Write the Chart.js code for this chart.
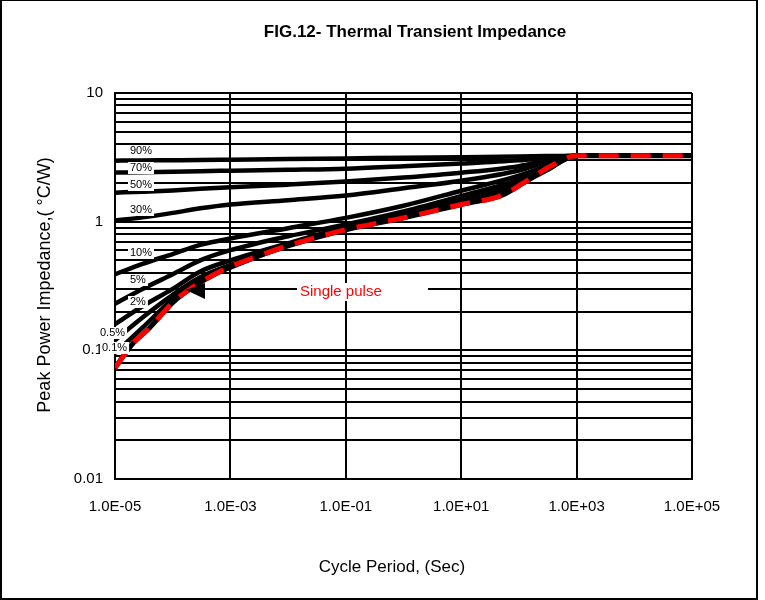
<!DOCTYPE html>
<html>
<head>
<meta charset="utf-8">
<script src="https://cdn.jsdelivr.net/npm/chart.js@4.4.1/dist/chart.umd.min.js"></script>
<style>
  html, body { margin: 0; padding: 0; background: #fff; }
  #wrap { width: 765px; height: 600px; }
</style>
</head>
<body>
<div id="wrap"><canvas id="chart" width="765" height="600"></canvas></div>
<script>
// Cycle period (s) for the duty-cycle curves
const periods = [1e-5, 3e-5, 1e-4, 3e-4, 1e-3, 1e-2, 1e-1, 1, 10, 100, 300, 1000, 1e5];

// Peak power impedance (°C/W) per duty cycle
const duty90 = [2.98, 2.99, 3.0, 3.01, 3.03, 3.07, 3.1, 3.14, 3.17, 3.21, 3.24, 3.26, 3.26];
const duty70 = [2.41, 2.42, 2.44, 2.47, 2.49, 2.53, 2.58, 2.7, 2.83, 3.0, 3.13, 3.26, 3.26];
const duty50 = [1.68, 1.71, 1.75, 1.8, 1.85, 1.94, 2.05, 2.2, 2.4, 2.7, 2.98, 3.26, 3.26];
const duty30 = [1.02, 1.08, 1.17, 1.27, 1.36, 1.47, 1.6, 1.82, 2.08, 2.5, 2.9, 3.26, 3.26];
const duty10 = [0.39, 0.47, 0.56, 0.66, 0.74, 0.89, 1.07, 1.33, 1.74, 2.28, 2.72, 3.26, 3.26];
const duty5 = [0.23, 0.3, 0.39, 0.5, 0.6, 0.77, 0.95, 1.2, 1.58, 2.12, 2.62, 3.26, 3.26];
const duty2 = [0.16, 0.22, 0.3, 0.41, 0.5, 0.68, 0.9, 1.12, 1.48, 2.0, 2.55, 3.26, 3.26];
const duty05 = [0.12, 0.18, 0.27, 0.37, 0.46, 0.66, 0.88, 1.1, 1.43, 1.97, 2.52, 3.26, 3.26];
const duty01 = [0.095, 0.15, 0.25, 0.35, 0.44, 0.655, 0.87, 1.08, 1.4, 1.94, 2.5, 3.26, 3.26];

// Single pulse curve
const pulsePeriods = [1e-5, 2e-5, 4e-5, 1e-4, 2e-4, 7e-4, 3e-3, 1e-2, 1e-1, 1, 10, 50, 120, 400, 1000, 1e5];
const singlePulse = [0.073, 0.112, 0.15, 0.235, 0.3, 0.416, 0.54, 0.65, 0.866, 1.07, 1.36, 1.6, 2.0, 2.78, 3.26, 3.26];

const dutyLabels = ['90%', '70%', '50%', '30%', '10%', '5%', '2%', '0.5%', '0.1%'];
const dutySeries = [duty90, duty70, duty50, duty30, duty10, duty5, duty2, duty05, duty01];

// Axis ticks
const xTickValues = [1e-5, 1e-3, 1e-1, 1e1, 1e3, 1e5];
const xTickLabels = ['1.0E-05', '1.0E-03', '1.0E-01', '1.0E+01', '1.0E+03', '1.0E+05'];
const yTickValues = [0.01, 0.1, 1, 10];
const yTickLabels = ['0.01', '0.1', '1', '10'];

function toPoints(xs, ys) {
    return xs.map((x, i) => ({ x: x, y: ys[i] }));
}

// horizontal grid at every 1..9 step of each decade
const yGrid = [];
[0.01, 0.1, 1].forEach(d => {
    for (let k = 1; k < 10; k++) yGrid.push(d * k);
});
yGrid.push(10);

const datasets = [];
datasets.push({
    label: 'Single pulse',
    data: toPoints(pulsePeriods, singlePulse),
    borderColor: '#ff0000',
    borderWidth: 5,
    borderDash: [20, 12],
    borderCapStyle: 'butt'
});
datasets.push({
    label: 'Single pulse base',
    data: toPoints(pulsePeriods, singlePulse),
    borderColor: '#000',
    borderWidth: 5
});
dutySeries.forEach((s, i) => {
    datasets.push({
        label: dutyLabels[i],
        data: toPoints(periods, s),
        borderColor: '#000',
        borderWidth: 4.5
    });
});

// label placements (pixels, relative to plot left edge)
const labelPos = [[15, 151], [15, 168], [15, 185], [15, 210], [15, 253], [15, 280], [15, 302], [-15, 333], [-13, 348]];

const decorations = {
    id: 'decorations',
    afterDatasetsDraw(chart) {
        const ctx = chart.ctx;
        const area = chart.chartArea;
        ctx.save();
        ctx.font = '11px Arial, "Liberation Sans", sans-serif';
        ctx.textBaseline = 'middle';
        ctx.textAlign = 'left';
        dutyLabels.forEach((t, i) => {
            const x = area.left + labelPos[i][0];
            const y = labelPos[i][1];
            const w = ctx.measureText(t).width;
            ctx.fillStyle = '#fff';
            ctx.fillRect(x - 2, y - 6, w + 4, 12);
            ctx.fillStyle = '#000';
            ctx.fillText(t, x, y);
        });

        // single pulse callout
        ctx.font = '15px Arial, "Liberation Sans", sans-serif';
        ctx.fillStyle = '#fff';
        ctx.fillRect(297, 283, 131, 18);
        ctx.fillStyle = '#ff0000';
        ctx.fillText('Single pulse', 300, 292);
        ctx.fillStyle = '#000';
        ctx.beginPath();
        ctx.moveTo(186, 290);
        ctx.lineTo(205, 283);
        ctx.lineTo(205, 299);
        ctx.closePath();
        ctx.fill();
        ctx.restore();
    },
    afterDraw(chart) {
        const ctx = chart.ctx;
        ctx.save();
        ctx.fillStyle = '#000';
        ctx.textAlign = 'center';
        ctx.textBaseline = 'middle';
        ctx.font = 'bold 17px Arial, "Liberation Sans", sans-serif';
        ctx.fillText('FIG.12- Thermal Transient Impedance', 415, 32);
        ctx.font = '17px Arial, "Liberation Sans", sans-serif';
        ctx.fillText('Cycle Period, (Sec)', 392, 567);
        ctx.translate(45, 285);
        ctx.rotate(-Math.PI / 2);
        ctx.font = '18px Arial, "Liberation Sans", sans-serif';
        ctx.fillText('Peak Power Impedance,( °C/W)', 0, 0);
        ctx.restore();

        ctx.save();
        ctx.strokeStyle = '#000';
        ctx.lineWidth = 2;
        ctx.strokeRect(1, 0, 756, 599);
        ctx.restore();
    }
};

new Chart(document.getElementById('chart'), {
    type: 'scatter',
    data: { datasets: datasets },
    plugins: [decorations],
    options: {
        responsive: false,
        animation: false,
        showLine: true,
        layout: { padding: { top: 93, right: 73, left: 0, bottom: 0 } },
        elements: {
            point: { radius: 0 },
            line: { cubicInterpolationMode: 'monotone', fill: false }
        },
        plugins: {
            legend: { display: false },
            tooltip: { enabled: false },
            title: { display: false }
        },
        scales: {
            x: {
                type: 'logarithmic',
                min: 1e-5,
                max: 1e5,
                afterBuildTicks: scale => {
                    scale.ticks = xTickValues.map(v => ({ value: v }));
                },
                afterFit: scale => { scale.height = 121; },
                grid: { color: '#000', lineWidth: 2, drawTicks: false },
                border: { color: '#000', width: 2 },
                ticks: {
                    autoSkip: false,
                    maxRotation: 0,
                    padding: 19,
                    color: '#000',
                    font: { family: 'Arial, "Liberation Sans", sans-serif', size: 15 },
                    callback: (value, i) => xTickLabels[i]
                }
            },
            y: {
                type: 'logarithmic',
                min: 0.01,
                max: 10,
                afterBuildTicks: scale => {
                    scale.ticks = yGrid.map(v => ({ value: v }));
                },
                afterFit: scale => { scale.width = 115; },
                grid: { color: '#000', lineWidth: 2, drawTicks: false },
                border: { color: '#000', width: 2 },
                ticks: {
                    autoSkip: false,
                    padding: 12,
                    color: '#000',
                    font: { family: 'Arial, "Liberation Sans", sans-serif', size: 15 },
                    callback: value => {
                        const j = yTickValues.findIndex(v => Math.abs(v - value) / v < 1e-6);
                        return j >= 0 ? yTickLabels[j] : '';
                    }
                }
            }
        }
    }
});
</script>
</body>
</html>
